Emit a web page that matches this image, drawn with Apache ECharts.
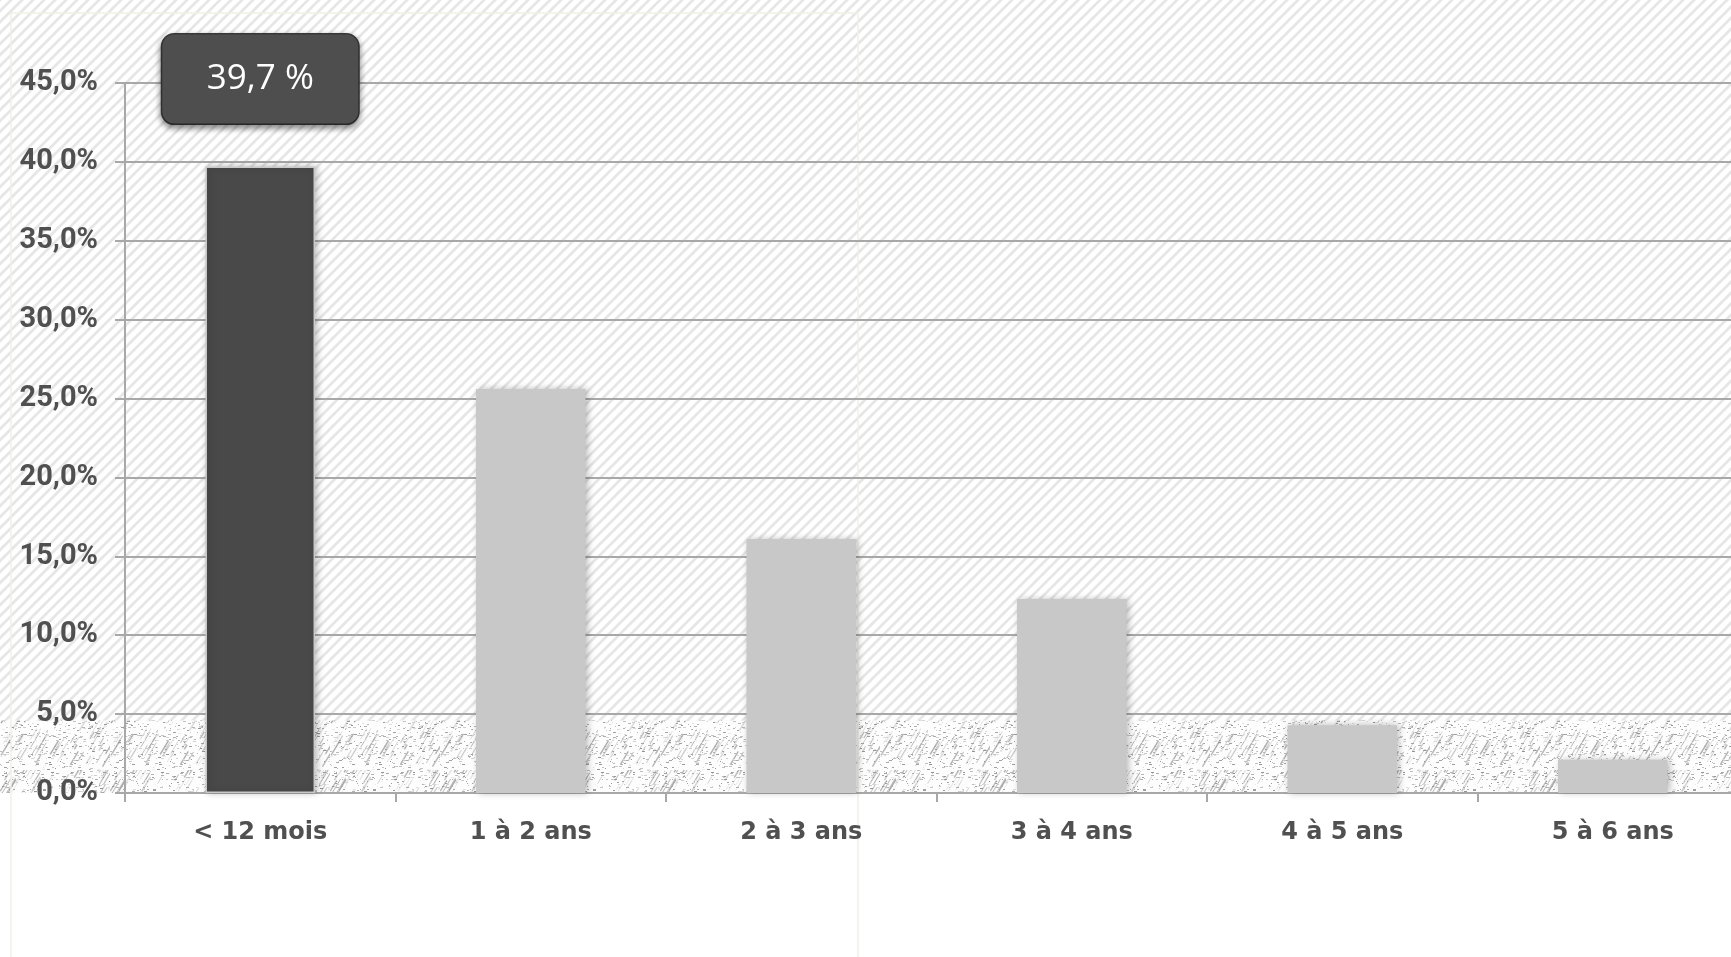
<!DOCTYPE html>
<html>
<head>
<meta charset="utf-8">
<script src="https://cdn.jsdelivr.net/npm/echarts@6/dist/echarts.min.js"></script>
<style>
html,body{margin:0;padding:0;background:#fff;}
#c{width:1731px;height:957px;}
</style>
</head>
<body>
<div id="c"></div>
<script>
// ---- data ----
const categories = ['< 12 mois', '1 à 2 ans', '2 à 3 ans', '3 à 4 ans', '4 à 5 ans', '5 à 6 ans'];
const values = [39.7, 25.6, 16.1, 12.3, 4.3, 2.1];
const highlightLabel = '39,7 %';
const yTicks = [0, 5, 10, 15, 20, 25, 30, 35, 40, 45];
const bandTop = 4.6;

// ---- textures ----
function hatchTile() {
  const s = 11, c = document.createElement('canvas');
  c.width = s; c.height = s;
  const g = c.getContext('2d');
  g.fillStyle = '#ffffff'; g.fillRect(0, 0, s, s);
  g.strokeStyle = '#e6e6e6'; g.lineWidth = 2.8;
  g.beginPath();
  g.moveTo(-1, s + 1); g.lineTo(s + 1, -1);
  g.moveTo(-s - 1, s + 1); g.lineTo(1, -1);
  g.moveTo(s - 1, s + 1); g.lineTo(2 * s + 1, -1);
  g.stroke();
  return c;
}
function noiseTile() {
  const s = 110, c = document.createElement('canvas');
  c.width = s; c.height = s;
  const g = c.getContext('2d');
  g.fillStyle = '#fdfdfd'; g.fillRect(0, 0, s, s);
  let seed = 98765;
  const rnd = () => { seed = (seed * 1103515245 + 12345) & 0x7fffffff; return seed / 0x7fffffff; };
  for (let i = 0; i < 120; i++) {
    const x = rnd() * s, y = rnd() * s, L = 4 + rnd() * 14;
    const v = Math.floor(165 + rnd() * 70);
    g.strokeStyle = 'rgb(' + v + ',' + v + ',' + v + ')';
    g.lineWidth = 0.7 + rnd() * 0.9;
    g.beginPath(); g.moveTo(x, y); g.lineTo(x + L * 0.6, y - L); g.stroke();
  }
  for (let i = 0; i < 750; i++) {
    const x = Math.floor(rnd() * s), y = Math.floor(rnd() * s);
    const v = Math.floor(145 + rnd() * 95);
    g.fillStyle = 'rgb(' + v + ',' + v + ',' + v + ')';
    g.fillRect(x, y, 1 + Math.floor(rnd() * 3), 1);
  }
  return c;
}

const fmt = v => v.toFixed(1).replace('.', ',') + '%';

const chart = echarts.init(document.getElementById('c'), null, {renderer: 'canvas'});
const option = {
  backgroundColor: '#ffffff',
  animation: false,
  grid: {left: 125, top: 83, width: 1623, height: 710, containLabel: false, outerBoundsMode: 'none'},
  xAxis: {
    type: 'category',
    data: categories,
    axisLine: {lineStyle: {color: '#a8a8a8', width: 2}},
    axisTick: {show: true, alignWithLabel: false, length: 9, lineStyle: {color: '#a8a8a8', width: 2}},
    axisLabel: {
      margin: 28, color: '#505050', fontFamily: 'DejaVu Sans', fontWeight: 'bold', fontSize: 24
    }
  },
  yAxis: {
    type: 'value', min: yTicks[0], max: yTicks[yTicks.length - 1], interval: 5,
    axisLine: {show: true, lineStyle: {color: '#a8a8a8', width: 2}},
    axisTick: {show: true, length: 10, lineStyle: {color: '#a8a8a8', width: 2}},
    splitLine: {show: true, lineStyle: {color: '#a8a8a8', width: 2}},
    axisLabel: {
      margin: 27, color: '#505050', fontFamily: 'Roboto', fontWeight: 'bold', fontSize: 29,
      padding: [6, 0, 0, 0],
      formatter: fmt
    }
  },
  series: [{
    type: 'bar',
    barWidth: '40.5%',
    z: 3,
    data: values.map((v, i) => {
      const d = {value: v, itemStyle: {
        color: i === 0 ? '#494949' : '#c8c8c8',
        borderColor: i === 0 ? '#c9c9c9' : '#c8c8c8',
        borderWidth: i === 0 ? 1.5 : 0,
        shadowBlur: 7, shadowColor: 'rgba(0,0,0,0.28)', shadowOffsetX: 2, shadowOffsetY: 0
      }};
      if (i === 0) {
        d.label = {
          show: true, position: 'top', distance: 43,
          formatter: highlightLabel,
          color: '#ffffff', fontFamily: 'Open Sans', fontSize: 35,
          backgroundColor: '#4e4e4e', borderColor: '#3c3c3c', borderWidth: 1.5,
          borderRadius: 12, width: 196, height: 89, lineHeight: 89, align: 'center',
          shadowBlur: 6, shadowColor: 'rgba(0,0,0,0.45)', shadowOffsetY: 3
        };
      }
      return d;
    })
  }]
};
chart.setOption(option);

const y0 = chart.convertToPixel({yAxisIndex: 0}, 0);
const yb = chart.convertToPixel({yAxisIndex: 0}, bandTop);
chart.setOption({
  graphic: {elements: [
    {type: 'rect', z: -20, silent: true, shape: {x: 0, y: 0, width: 1731, height: y0},
     style: {fill: {image: hatchTile(), repeat: 'repeat'}}},
    {type: 'rect', z: -19, silent: true, shape: {x: 0, y: yb, width: 1731, height: y0 - yb},
     style: {fill: {image: noiseTile(), repeat: 'repeat'}}},
    {type: 'rect', z: -18, silent: true, shape: {x: 11, y: 13, width: 847, height: 1000},
     style: {fill: 'none', stroke: '#f1f1e6', lineWidth: 1.5}}
  ]}
});
</script>
</body>
</html>
